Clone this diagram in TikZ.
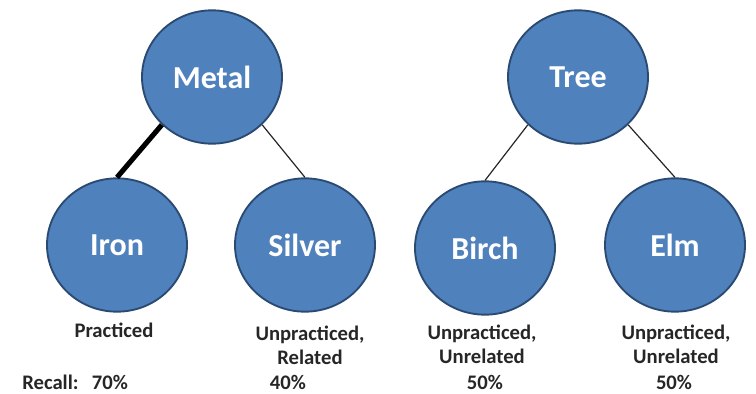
\documentclass[tikz,border=0pt]{standalone}
\usepackage{fontspec}
\setmainfont{Carlito}
\usetikzlibrary{shapes.geometric,positioning,calc}
\definecolor{nodeBlue}{HTML}{4F81BD}
\definecolor{nodeEdge}{HTML}{2A4A72}
\definecolor{capGray}{HTML}{262626}
\begin{document}
\begin{tikzpicture}
  [x=0.75pt,y=-0.75pt,
   wordN/.style={ellipse,draw=nodeEdge,line width=1.4pt,fill=nodeBlue,
     minimum width=105pt,minimum height=100pt,inner sep=0pt,
     text=white,font=\fontsize{24}{28}\selectfont\bfseries},
   capT/.style={align=center,text=capGray,inner sep=0pt,
     font=\fontsize{15.5}{18}\selectfont\bfseries},
   link/.style={line width=0.9pt,black!85},
   strong/.style={line width=3.8pt,black}]

  \useasboundingbox (0,0) rectangle (756,393);

  % categories
  \node[wordN] (metal) at (212,77)  {Metal};
  \node[wordN] (tree)  at (578,77)  {Tree};

  % exemplars
  \node[wordN] (iron)   at (117,245) {Iron};
  \node[wordN] (silver) at (305,245) {Silver};
  \node[wordN] (birch)  at (485,248) {Birch};
  \node[wordN] (elm)    at (675,245) {Elm};

  \draw [strong] (metal.south west) -- (iron.north);
  \draw [link] (metal.south east) -- (silver.north);
  \draw [link] (tree.south west) -- (birch.north);
  \draw [link] (tree.south east) -- (elm.north);

  % conditions
  \node[capT] (cIron)   at (114,330) {Practiced};
  \node[capT] (cSilver) at (310,345) {Unpracticed,\\Related};
  \node[capT] (cBirch)  at (482,344) {Unpracticed,\\Unrelated};
  \node[capT] (cElm)    at (676,344) {Unpracticed,\\Unrelated};

  % recall rates
  \node[capT,anchor=west] (rLabel) at (22,382) {Recall:};
  \node[capT] (rIron)   at (110,382) {70\%};
  \node[capT] (rSilver) at (288,382) {40\%};
  \node[capT] (rBirch)  at (485,382) {50\%};
  \node[capT] (rElm)    at (674,382) {50\%};
\end{tikzpicture}
\end{document}
